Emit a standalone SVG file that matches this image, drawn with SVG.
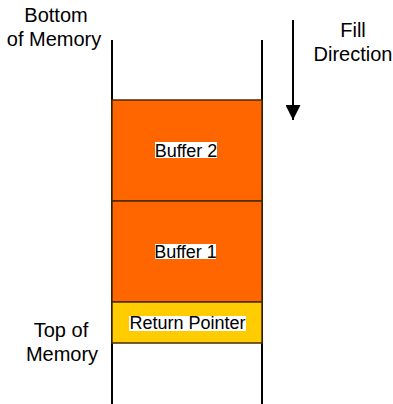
<svg xmlns="http://www.w3.org/2000/svg" width="393" height="404" viewBox="0 0 393 404">
<defs>
<style>
.lbl{font-family:"Liberation Sans",Arial,sans-serif;font-size:20px;fill:#000;text-anchor:middle}
.in{font-family:"Liberation Sans",Arial,sans-serif;font-size:18px;fill:#000;text-anchor:middle}
.wall{stroke:#000;stroke-width:2;fill:none}
.blk{stroke:#4a2a00;stroke-width:1.5}
.hl{fill:#fff}
</style>
<marker id="ah" viewBox="0 0 10 10" refX="10" refY="5" markerWidth="22" markerHeight="15" markerUnits="userSpaceOnUse" orient="auto">
<path d="M0,0 L10,5 L0,10 z" fill="#000"/>
</marker>
</defs>
<rect width="393" height="404" fill="#fff"/>
<g id="walls">
<line class="wall" x1="112" y1="40" x2="112" y2="404"/>
<line class="wall" x1="262" y1="40" x2="262" y2="404"/>
</g>
<g id="buffer2">
<rect class="blk" x="112" y="100" width="150" height="101" fill="#ff6600"/>
<rect class="hl" x="155" y="142" width="62" height="16"/>
<text class="in" x="186" y="157">Buffer 2</text>
</g>
<g id="buffer1">
<rect class="blk" x="112" y="201" width="150" height="101" fill="#ff6600"/>
<rect class="hl" x="155" y="244" width="61" height="15"/>
<text class="in" x="185.5" y="258">Buffer 1</text>
</g>
<g id="returnptr">
<rect class="blk" x="112" y="302" width="150" height="41" fill="#ffcc00"/>
<rect class="hl" x="129" y="316" width="117" height="15"/>
<text class="in" x="187.5" y="329">Return Pointer</text>
</g>
<g id="labels">
<text class="lbl" x="56" y="22">Bottom</text>
<text class="lbl" x="54" y="46">of Memory</text>
<text class="lbl" x="353" y="37">Fill</text>
<text class="lbl" x="353" y="61">Direction</text>
<text class="lbl" x="61" y="337">Top of</text>
<text class="lbl" x="62" y="361">Memory</text>
</g>
<g id="connectors">
<line x1="293" y1="20" x2="293" y2="120" stroke="#000" stroke-width="2" marker-end="url(#ah)"/>
</g>
</svg>
